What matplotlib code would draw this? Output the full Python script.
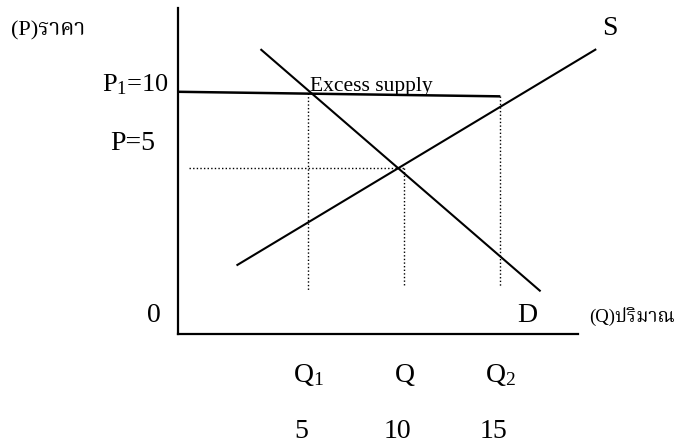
import matplotlib
matplotlib.use("Agg")
import matplotlib.pyplot as plt

plt.rcParams['font.family'] = ['Liberation Serif', 'Noto Serif Thai', 'DejaVu Sans']
plt.rcParams['mathtext.fontset'] = 'custom'
plt.rcParams['mathtext.rm'] = 'Liberation Serif'

# ---- data (economic units: Q quantity, P price) ----
supply_q = [1.25, 20.0]
supply_p = [-1.4, 12.8]
demand_q = [2.5, 17.1]
demand_p = [12.8, -3.1]
price_floor_q = [-1.8, 15.0]
price_floor_p = [10.0, 9.7]
eq_q = 10
eq_p = 5
q1, q2 = 5, 15
q_ticks = [5, 10, 15]
q_tick_labels = ['5', '10', '15']
q_sym_labels = [r'$\mathregular{Q_1}$', 'Q', r'$\mathregular{Q_2}$']

fig = plt.figure(figsize=(6.83, 4.44), dpi=100)
ax = fig.add_axes([178 / 683, (444 - 334) / 444, (578 - 178) / 683, (334 - 8) / 444])
ax.set_xlim(-1.8, 19.05)
ax.set_ylim(-5.9, 15.5)
for s in ['top', 'right']:
    ax.spines[s].set_visible(False)
for s in ['left', 'bottom']:
    ax.spines[s].set_linewidth(1.6)
    ax.spines[s].set_color('black')
ax.set_xticks([])
ax.set_yticks([])

lw = 1.5
ax.plot(supply_q, supply_p, color='black', lw=lw, solid_capstyle='butt', clip_on=False)
ax.plot(demand_q, demand_p, color='black', lw=lw, solid_capstyle='butt', clip_on=False)
ax.plot(price_floor_q, price_floor_p, color='black', lw=1.8, solid_capstyle='butt')

dot = (0, (1, 1.6))
ax.plot([q1, q1], [9.9, -3.0], color='black', lw=1.0, linestyle=dot)
ax.plot([eq_q, eq_q], [eq_p, -2.8], color='black', lw=1.0, linestyle=dot)
ax.plot([q2, q2], [9.7, -2.8], color='black', lw=1.0, linestyle=dot)
ax.plot([-1.25, eq_q], [eq_p, eq_p], color='black', lw=1.0, linestyle=dot)

fs = 20
ax.text(-10.5, 13.68, '(P)ราคา', fontsize=16, ha='left', va='baseline')
ax.text(-2.3, 10.0, r'$\mathregular{P_1}$=10', fontsize=19, ha='right', va='baseline')
ax.text(-2.97, 6.18, 'P=5', fontsize=fs, ha='right', va='baseline')
ax.text(20.73, 13.75, 'S', fontsize=fs, ha='center', va='baseline')
ax.text(16.4, -5.13, 'D', fontsize=fs, ha='center', va='baseline')
ax.text(-3.07, -5.13, '0', fontsize=fs, ha='center', va='baseline')
ax.text(19.65, -5.13, '(Q)ปริมาณ', fontsize=13.5, ha='left', va='baseline')
ax.text(5.1, 10.07, 'Excess supply', fontsize=15.5, ha='left', va='baseline')

for q, sym, lab in zip(q_ticks, q_sym_labels, q_tick_labels):
    ax.text(q, -9.08, sym, fontsize=fs, ha='center', va='baseline')
    ax.text(q - 0.35, -12.7, lab, fontsize=fs, ha='center', va='baseline')

fig.savefig("out.png", dpi=100)
